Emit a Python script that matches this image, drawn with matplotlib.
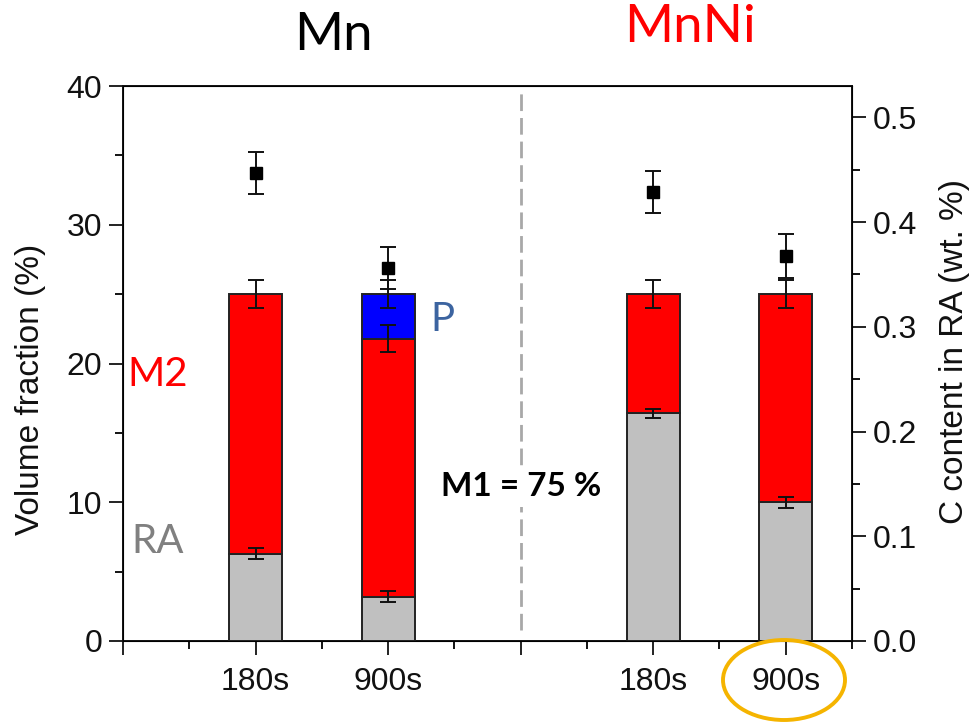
import matplotlib
matplotlib.use("Agg")
import matplotlib.pyplot as plt
from matplotlib.patches import Ellipse
from matplotlib.ticker import MultipleLocator, FixedLocator, FixedFormatter

# Heat-treatment times per alloy (Mn at 1-2, MnNi at 4-5)
positions = [1, 2, 4, 5]
time_labels = ["180s", "900s", "180s", "900s"]

# Phase volume fractions (%)
ra = [6.3, 3.2, 16.4, 10.0]
m2 = [18.7, 18.6, 8.6, 15.0]
p = [0.0, 3.2, 0.0, 0.0]
ra_err = [0.4, 0.4, 0.35, 0.4]
m2_err = [1.0, 1.0, 1.0, 1.0]
p_err = [0.0, 1.0, 0.0, 0.0]

# Carbon content in retained austenite (wt. %)
c_ra = [0.447, 0.356, 0.429, 0.368]
c_err = [0.020, 0.020, 0.020, 0.021]

plt.rcParams["font.family"] = ["Liberation Sans", "DejaVu Sans"]

W, H = 969, 726
fig = plt.figure(figsize=(W / 100, H / 100), dpi=100)
ax = fig.add_axes([123 / W, (H - 641) / H, 729 / W, 555 / H])

edge = "#222222"
bw = 0.4
ax.bar(positions, ra, bw, color="#c0c0c0", edgecolor=edge, linewidth=1.4, zorder=3)
m2_base = ra
ax.bar(positions, m2, bw, bottom=m2_base, color="#ff0000", edgecolor=edge, linewidth=1.4, zorder=3)
p_base = [a + b for a, b in zip(ra, m2)]
p_idx = [i for i, v in enumerate(p) if v > 0]
ax.bar([positions[i] for i in p_idx], [p[i] for i in p_idx], bw,
       bottom=[p_base[i] for i in p_idx], color="#0000ff", edgecolor=edge,
       linewidth=1.4, zorder=3)

ekw = dict(fmt="none", ecolor="#111111", elinewidth=1.4, capsize=5.5, capthick=1.4, zorder=5)
ax.errorbar(positions, ra, yerr=ra_err, **ekw)
ax.errorbar(positions, p_base, yerr=m2_err, **ekw)
ax.errorbar([positions[i] for i in p_idx],
            [p_base[i] + p[i] for i in p_idx],
            yerr=[p_err[i] for i in p_idx], **ekw)

# Separator between the two alloys
ax.axvline(3, ymin=0.02, ymax=0.995, color="#a8a8a8", linestyle=(0, (6, 2.5)),
           linewidth=2, zorder=1)

ax.set_xlim(0, 5.5)
ax.set_ylim(0, 40)
ax.xaxis.set_major_locator(FixedLocator([0, 1, 2, 3, 4, 5]))
ax.xaxis.set_major_formatter(FixedFormatter(["", time_labels[0], time_labels[1], "",
                                              time_labels[2], time_labels[3]]))
ax.xaxis.set_minor_locator(MultipleLocator(0.5))
ax.yaxis.set_major_locator(MultipleLocator(10))
ax.yaxis.set_minor_locator(MultipleLocator(5))
ax.tick_params(axis="both", which="major", direction="out", length=10, width=1.3,
               labelsize=23, pad=5, colors="#111111")
ax.tick_params(axis="both", which="minor", direction="out", length=6, width=1.3)
ax.tick_params(axis="x", which="major", pad=9)
for s in ax.spines.values():
    s.set_linewidth(1.4)
    s.set_color("#111111")

ax2 = ax.twinx()
ax2.set_ylim(0, 0.53)
ax2.yaxis.set_major_locator(MultipleLocator(0.1))
ax2.yaxis.set_minor_locator(MultipleLocator(0.05))
ax2.yaxis.set_major_formatter(plt.FuncFormatter(lambda v, _: f"{v:.1f}"))
ax2.tick_params(axis="y", which="major", direction="out", length=10, width=1.3,
                labelsize=23, pad=5, colors="#111111")
ax2.tick_params(axis="y", which="minor", direction="out", length=6, width=1.3)
ax2.errorbar(positions, c_ra, yerr=c_err, fmt="s", color="black", markersize=9,
             ecolor="#111111", elinewidth=1.4, capsize=5.5, capthick=1.4, zorder=6)

# Phase labels
ax.text(0.264, 19.2, "M2", color="#ff0000", fontsize=29, family="Lato",
        ha="center", va="center")
ax.text(0.264, 7.2, "RA", color="#808080", fontsize=29, family="Lato",
        ha="center", va="center")
ax.text(2.41, 23.2, "P", color="#3c64a0", fontsize=29, family="Lato",
        ha="center", va="center")
ax.text(3, 11.1, "M1 = 75 %", fontsize=24, fontweight="bold", family="Lato",
        ha="center", va="center", zorder=4,
        bbox=dict(facecolor="white", edgecolor="none", pad=4))

# Alloy titles
fig.text(333 / W, 1 - 35 / H, "Mn", fontsize=38, family="Lato", color="black",
         ha="center", va="center")
fig.text(690 / W, 1 - 27 / H, "MnNi", fontsize=38, family="Lato", color="#ff0000",
         ha="center", va="center")

# Axis titles
fig.text(31 / W, 1 - 389 / H, "Volume fraction (%)", rotation=90, fontsize=24,
         ha="center", va="center", color="#111111")
fig.text(955 / W, 1 - 352 / H, "C content in RA (wt. %)", rotation=90, fontsize=24,
         ha="center", va="center", color="#111111")

# Highlight ring around the last time label
fig.add_artist(Ellipse((784 / W, 1 - 680 / H), 122 / W, 80 / H,
                       transform=fig.transFigure, fill=False,
                       edgecolor="#f5b400", linewidth=2.8))

fig.savefig("out.png", dpi=100)
